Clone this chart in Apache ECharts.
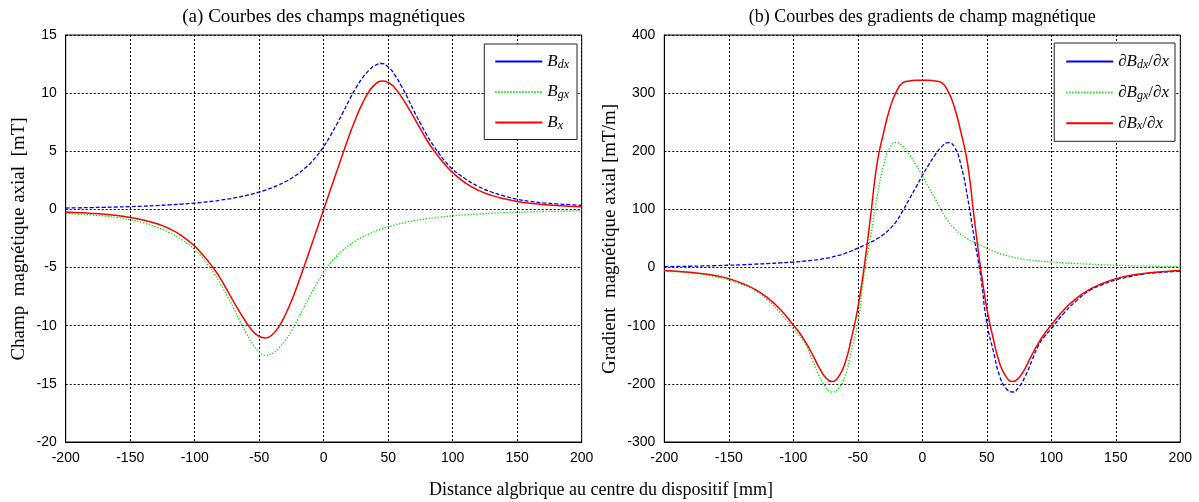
<!DOCTYPE html>
<html><head><meta charset="utf-8">
<script src="https://cdn.jsdelivr.net/npm/echarts@6/dist/echarts.min.js"></script>
<style>html,body{margin:0;padding:0;background:#fff}#c{width:1199px;height:502px}</style>
</head><body><div id="c"></div>
<script>
// Common x positions [mm]
const xs = [-200,-190,-180,-170,-160,-150,-140,-130,-120,-110,
  -100,-95,-90,-85,-80,-75,-70,-65,-60,-55,-50,-45,-40,-35,-30,-25,-20,-15,-10,-5,
  0,5,10,15,20,25,30,35,40,45,50,55,60,65,70,75,80,85,90,95,100,
  110,120,130,140,150,160,170,180,190,200];

// (a) magnetic fields [mT]
const Bdx = [0.12,0.14,0.16,0.18,0.21,0.24,0.28,0.33,0.39,0.46,
  0.55,0.6,0.66,0.72,0.8,0.88,0.97,1.08,1.2,1.34,1.5,1.67,1.87,2.1,2.37,2.68,3.05,3.5,4.02,4.65,
  5.4,6.3,7.3,8.35,9.45,10.45,11.3,11.95,12.4,12.55,12.25,11.6,10.65,9.6,8.45,7.4,6.4,5.5,4.72,4.02,3.45,
  2.62,1.97,1.5,1.15,0.88,0.7,0.57,0.48,0.41,0.35];
const Bgx = [-0.35,-0.41,-0.48,-0.57,-0.7,-0.88,-1.15,-1.5,-1.97,-2.62,
  -3.45,-4.02,-4.72,-5.5,-6.4,-7.4,-8.45,-9.6,-10.65,-11.6,-12.25,-12.55,-12.4,-11.95,-11.3,-10.45,-9.45,-8.35,-7.3,-6.3,
  -5.4,-4.65,-4.02,-3.5,-3.05,-2.68,-2.37,-2.1,-1.87,-1.67,-1.5,-1.34,-1.2,-1.08,-0.97,-0.88,-0.8,-0.72,-0.66,-0.6,-0.55,
  -0.46,-0.39,-0.33,-0.28,-0.24,-0.21,-0.18,-0.16,-0.14,-0.12];
const Bx = [-0.23,-0.28,-0.34,-0.42,-0.53,-0.69,-0.91,-1.21,-1.64,-2.27,
  -3.16,-3.74,-4.4,-5.12,-5.95,-6.92,-7.9,-8.85,-9.72,-10.47,-10.93,-11.05,-10.78,-10.12,-9.12,-7.87,-6.42,-4.85,-3.23,-1.62,
  0,1.62,3.23,4.85,6.42,7.87,9.12,10.12,10.78,11.05,10.93,10.47,9.72,8.85,7.9,6.92,5.95,5.12,4.4,3.74,3.16,
  2.27,1.64,1.21,0.91,0.69,0.53,0.42,0.34,0.28,0.23];

// (b) field gradients [mT/m]
const dBdx = [1.6,1.9,2.3,2.75,3.3,4.0,4.8,5.8,6.9,8.1,
  9.5,10.4,11.4,12.6,14.0,15.8,18.0,20.8,24.2,28.5,33.5,38.3,43.5,49.5,57,67,80,98,118,138,
  158,177,194,208,215,207,176,122,54,-11,-95,-143,-187,-208,-214,-205,-186,-160,-134,-118,-105,
  -78,-56,-39,-29,-21,-16,-11.5,-9,-7.5,-6];
const dBgx = [-6,-7.5,-9,-11.5,-16,-21,-29,-39,-56,-78,
  -105,-118,-134,-160,-186,-205,-214,-208,-187,-143,-95,-11,54,122,176,207,215,208,194,177,
  158,138,118,98,80,67,57,49.5,43.5,38.3,33.5,28.5,24.2,20.8,18.0,15.8,14.0,12.6,11.4,10.4,9.5,
  8.1,6.9,5.8,4.8,4.0,3.3,2.75,2.3,1.9,1.6];
const dBx = [-5,-6.5,-8,-10.5,-14,-19,-27,-37,-52,-72,
  -99,-113,-130,-150,-172,-189,-196,-188,-165,-122,-70,2,90,180,232,275,303,318,321,322,
  322,322,321,318,303,275,232,180,90,2,-70,-122,-165,-188,-196,-189,-172,-150,-130,-113,-99,
  -72,-52,-37,-27,-19,-14,-10.5,-8,-6.5,-5];

const titleA = '(a) Courbes des champs magnétiques';
const titleB = '(b) Courbes des gradients de champ magnétique';
const yNameA = 'Champ  magnétique axial  [mT]';
const yNameB = 'Gradient  magnétique axial [mT/m]';
const xName = 'Distance algbrique au centre du dispositif [mm]';

const serif = '"Liberation Serif","Times New Roman","DejaVu Serif",serif';
const sans = '"Liberation Sans",Arial,Helvetica,sans-serif';

const chart = echarts.init(document.getElementById('c'), null, {renderer: 'canvas'});
const pairs = ys => xs.map((x, i) => [x, ys[i]]);

const splitLine = {show: true, lineStyle: {color: '#000', type: [2, 2], width: 1}};
function mkX(gi) {
  return {type: 'value', gridIndex: gi, min: -200, max: 200, interval: 50,
    axisLine: {show: true, onZero: false, lineStyle: {color: '#000', width: 1}},
    axisTick: {show: false},
    axisLabel: {color: '#000', fontFamily: sans, fontSize: 14, margin: 9, showMinLabel: true, showMaxLabel: true},
    splitLine: splitLine};
}
function mkY(gi, mn, mx, iv) {
  return {type: 'value', gridIndex: gi, min: mn, max: mx, interval: iv,
    axisLine: {show: true, onZero: false, lineStyle: {color: '#000', width: 1}},
    axisTick: {show: false},
    axisLabel: {color: '#000', fontFamily: sans, fontSize: 14, margin: 9, showMinLabel: true, showMaxLabel: true},
    splitLine: splitLine};
}
const rich = {
  i: {fontFamily: serif, fontStyle: 'italic', fontSize: 17, lineHeight: 18, color: '#000'},
  n: {fontFamily: serif, fontSize: 17, lineHeight: 18, color: '#000'},
  s: {fontFamily: serif, fontStyle: 'italic', fontSize: 12, lineHeight: 8, verticalAlign: 'bottom', color: '#000'}
};
const labelMap = {
  Bdx: '{i|B}{s|dx}', Bgx: '{i|B}{s|gx}', Bx: '{i|B}{s|x}',
  dBdx: '{n|∂}{i|B}{s|dx}{n|/∂}{i|x}', dBgx: '{n|∂}{i|B}{s|gx}{n|/∂}{i|x}', dBx: '{n|∂}{i|B}{s|x}{n|/∂}{i|x}'
};
const colors = {blue: '#0000ff', green: '#00e000', red: '#ff0000'};
function line(name, gi, ys, color, type, w) {
  return {name: name, type: 'line', xAxisIndex: gi, yAxisIndex: gi, data: pairs(ys),
    symbol: 'none', smooth: 0.5, color: color,
    lineStyle: {color: color, type: type, width: w}, emphasis: {disabled: true}, silent: true};
}
function mkLegend(names, right, top, padding, gap) {
  return {data: [{name: names[0], lineStyle: {type: 'solid'}}, names[1], names[2]],
    orient: 'vertical', right: right, top: top, itemWidth: 47, itemHeight: 14, itemGap: gap,
    padding: padding, borderColor: '#222', borderWidth: 1, backgroundColor: '#fff', borderRadius: 0,
    itemStyle: {opacity: 0, borderWidth: 0},
    formatter: n => labelMap[n], textStyle: {rich: rich, color: '#000'}, selectedMode: false};
}

chart.setOption({
  animation: false,
  backgroundColor: '#fff',
  grid: [
    {left: 65.7, right: 617.3, top: 35, bottom: 60, show: true, borderColor: '#000', borderWidth: 1, outerBoundsMode: 'none'},
    {left: 664.3, right: 18.7, top: 35, bottom: 60, show: true, borderColor: '#000', borderWidth: 1, outerBoundsMode: 'none'}
  ],
  xAxis: [mkX(0), mkX(1)],
  yAxis: [mkY(0, -20, 15, 5), mkY(1, -300, 400, 100)],
  legend: [
    mkLegend(['Bdx', 'Bgx', 'Bx'], 622, 44, [9, 8, 8, 10], 13),
    mkLegend(['dBdx', 'dBgx', 'dBx'], 24, 43, [10, 6, 9, 11], 13.4)
  ],
  series: [
    line('Bdx', 0, Bdx, colors.blue, [4, 2], 1.3),
    line('Bgx', 0, Bgx, colors.green, [1.3, 1.7], 1.3),
    line('Bx', 0, Bx, colors.red, 'solid', 1.5),
    line('dBdx', 1, dBdx, colors.blue, [4, 2], 1.3),
    line('dBgx', 1, dBgx, colors.green, [1.3, 1.7], 1.3),
    line('dBx', 1, dBx, colors.red, 'solid', 1.5)
  ],
  graphic: [
    {type: 'text', x: 323.7, y: 17, silent: true, style: {text: titleA, align: 'center', verticalAlign: 'middle', font: '19px ' + serif, fill: '#000'}},
    {type: 'text', x: 922.3, y: 17, silent: true, style: {text: titleB, align: 'center', verticalAlign: 'middle', font: '18px ' + serif, fill: '#000'}},
    {type: 'text', x: 601, y: 490, silent: true, style: {text: xName, align: 'center', verticalAlign: 'middle', font: '18px ' + serif, fill: '#000'}},
    {type: 'text', x: 19, y: 239, rotation: Math.PI / 2, silent: true, style: {text: yNameA, align: 'center', verticalAlign: 'middle', font: '19px ' + serif, fill: '#000'}},
    {type: 'text', x: 610, y: 239, rotation: Math.PI / 2, silent: true, style: {text: yNameB, align: 'center', verticalAlign: 'middle', font: '19px ' + serif, fill: '#000'}}
  ]
});
</script></body></html>
